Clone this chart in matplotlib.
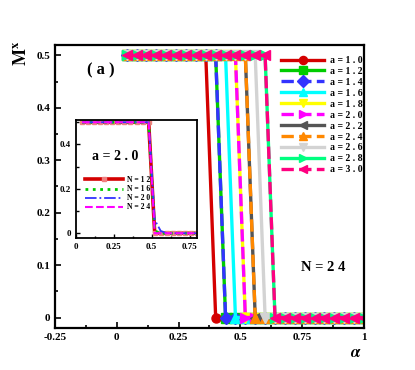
import matplotlib
matplotlib.use("Agg")
import matplotlib.pyplot as plt
from matplotlib.ticker import FixedLocator, FixedFormatter, MultipleLocator

plt.rcParams['font.family'] = ['Liberation Serif', 'DejaVu Serif']
plt.rcParams['font.weight'] = 'bold'
plt.rcParams['mathtext.fontset'] = 'stix'

# ---------------- data (main panel, N = 24) ----------------
alpha = [0.04, 0.08, 0.12, 0.16, 0.20, 0.24, 0.28, 0.32, 0.36, 0.40, 0.44, 0.48, 0.52,
         0.56, 0.60, 0.64, 0.68, 0.72, 0.76, 0.80, 0.84, 0.88, 0.92, 0.96, 1.00]

mx_a10 = [0.5, 0.5, 0.5, 0.5, 0.5, 0.5, 0.5, 0.5, 0.5, 0, 0, 0, 0, 0, 0, 0, 0, 0, 0, 0, 0, 0, 0, 0, 0]
mx_a12 = [0.5, 0.5, 0.5, 0.5, 0.5, 0.5, 0.5, 0.5, 0.5, 0.5, 0, 0, 0, 0, 0, 0, 0, 0, 0, 0, 0, 0, 0, 0, 0]
mx_a14 = [0.5, 0.5, 0.5, 0.5, 0.5, 0.5, 0.5, 0.5, 0.5, 0.5, 0, 0, 0, 0, 0, 0, 0, 0, 0, 0, 0, 0, 0, 0, 0]
mx_a16 = [0.5, 0.5, 0.5, 0.5, 0.5, 0.5, 0.5, 0.5, 0.5, 0.5, 0.5, 0, 0, 0, 0, 0, 0, 0, 0, 0, 0, 0, 0, 0, 0]
mx_a18 = [0.5, 0.5, 0.5, 0.5, 0.5, 0.5, 0.5, 0.5, 0.5, 0.5, 0.5, 0.5, 0, 0, 0, 0, 0, 0, 0, 0, 0, 0, 0, 0, 0]
mx_a20 = [0.5, 0.5, 0.5, 0.5, 0.5, 0.5, 0.5, 0.5, 0.5, 0.5, 0.5, 0.5, 0, 0, 0, 0, 0, 0, 0, 0, 0, 0, 0, 0, 0]
mx_a22 = [0.5, 0.5, 0.5, 0.5, 0.5, 0.5, 0.5, 0.5, 0.5, 0.5, 0.5, 0.5, 0.5, 0, 0, 0, 0, 0, 0, 0, 0, 0, 0, 0, 0]
mx_a24 = [0.5, 0.5, 0.5, 0.5, 0.5, 0.5, 0.5, 0.5, 0.5, 0.5, 0.5, 0.5, 0.5, 0, 0, 0, 0, 0, 0, 0, 0, 0, 0, 0, 0]
mx_a26 = [0.5, 0.5, 0.5, 0.5, 0.5, 0.5, 0.5, 0.5, 0.5, 0.5, 0.5, 0.5, 0.5, 0.5, 0, 0, 0, 0, 0, 0, 0, 0, 0, 0, 0]
mx_a28 = [0.5, 0.5, 0.5, 0.5, 0.5, 0.5, 0.5, 0.5, 0.5, 0.5, 0.5, 0.5, 0.5, 0.5, 0.5, 0, 0, 0, 0, 0, 0, 0, 0, 0, 0]
mx_a30 = [0.5, 0.5, 0.5, 0.5, 0.5, 0.5, 0.5, 0.5, 0.5, 0.5, 0.5, 0.5, 0.5, 0.5, 0.5, 0, 0, 0, 0, 0, 0, 0, 0, 0, 0]

series_labels = ['a = 1 . 0', 'a = 1 . 2', 'a = 1 . 4', 'a = 1 . 6', 'a = 1 . 8', 'a = 2 . 0',
                 'a = 2 . 2', 'a = 2 . 4', 'a = 2 . 6', 'a = 2 . 8', 'a = 3 . 0']
series_values = [mx_a10, mx_a12, mx_a14, mx_a16, mx_a18, mx_a20,
                 mx_a22, mx_a24, mx_a26, mx_a28, mx_a30]

# ---------------- data (inset, a = 2.0) ----------------
alpha_in = [0.04, 0.08, 0.12, 0.16, 0.20, 0.24, 0.28, 0.32, 0.36, 0.40, 0.44, 0.48,
            0.52, 0.56, 0.60, 0.64, 0.68, 0.72, 0.76, 0.80]
mx_n12 = [0.5, 0.5, 0.5, 0.5, 0.5, 0.5, 0.5, 0.5, 0.5, 0.5, 0.5, 0.5, 0, 0, 0, 0, 0, 0, 0, 0]
mx_n16 = [0.5, 0.5, 0.5, 0.5, 0.5, 0.5, 0.5, 0.5, 0.5, 0.5, 0.5, 0.5, 0.01, 0, 0, 0, 0, 0, 0, 0]
mx_n20 = [0.5, 0.5, 0.5, 0.5, 0.5, 0.5, 0.5, 0.5, 0.5, 0.5, 0.5, 0.5, 0.06, 0.01, 0, 0, 0, 0, 0, 0]
mx_n24 = [0.5, 0.5, 0.5, 0.5, 0.5, 0.5, 0.5, 0.5, 0.5, 0.5, 0.5, 0.5, 0, 0, 0, 0, 0, 0, 0, 0]
inset_labels = ['N = 1 2', 'N = 1 6', 'N = 2 0', 'N = 2 4']

xtick_vals = [-0.25, 0, 0.25, 0.5, 0.75, 1]
xtick_labels = ['-0.25', '0', '0.25', '0.5', '0.75', '1']
ytick_vals = [0, 0.1, 0.2, 0.3, 0.4, 0.5]
ytick_labels = ['0', '0.1', '0.2', '0.3', '0.4', '0.5']
in_xtick_vals = [0, 0.25, 0.5, 0.75]
in_xtick_labels = ['0', '0.25', '0.5', '0.75']
in_ytick_vals = [0, 0.2, 0.4]
in_ytick_labels = ['0', '0.2', '0.4']

# ---------------- styles ----------------
colors = ['#d40000', '#00cc00', '#3333ff', '#00ffff', '#ffff00', '#ff00ff',
          '#555555', '#ff8800', '#d3d3d3', '#00ff80', '#ff0080']
styles = ['-', '-', '--', '-', '-', '--', '-', '--', '-', '-', '--']
markers = ['o', 's', 'D', '^', 'v', '>', '<', '^', 'v', '>', '<']

fig = plt.figure(figsize=(4.15, 3.7), dpi=100)
ax = fig.add_axes([0.1325, 0.1135, 0.7446, 0.765])

for vals, lab, c, ls, m in zip(series_values, series_labels, colors, styles, markers):
    ax.plot(alpha, vals, color=c, ls=ls, lw=2.4, marker=m, ms=6.5,
            mec=c, mfc=c, label=lab)

ax.set_xlim(-0.25, 1.0)
ax.set_ylim(-0.02, 0.52)
ax.xaxis.set_major_locator(FixedLocator(xtick_vals))
ax.xaxis.set_major_formatter(FixedFormatter(xtick_labels))
ax.yaxis.set_major_locator(FixedLocator(ytick_vals))
ax.yaxis.set_major_formatter(FixedFormatter(ytick_labels))
ax.xaxis.set_minor_locator(MultipleLocator(0.125))
ax.yaxis.set_minor_locator(MultipleLocator(0.05))
ax.tick_params(which='both', direction='in', top=False, right=False, labelsize=8, width=1.2)
ax.tick_params(which='major', length=4)
ax.tick_params(which='minor', length=2.5)
for lab in ax.get_xticklabels() + ax.get_yticklabels():
    lab.set_fontweight('bold')
for sp in ax.spines.values():
    sp.set_linewidth(1.6)

ax.legend(loc='upper left', bbox_to_anchor=(0.72, 0.975), frameon=False,
          fontsize=7, handlelength=4.4, labelspacing=0.2, handletextpad=0.6,
          numpoints=1, borderaxespad=0, markerscale=0.9)

ax.text(-0.064, 0.472, '( a )', fontsize=12, fontweight='bold', ha='center', va='center')
ax.text(0.834, 0.095, 'N = 2 4', fontsize=10.5, fontweight='bold', ha='center', va='center')

fig.text(0.053, 0.855, r'$\mathbf{M^x}$', rotation=90, fontsize=13, ha='center', va='center')
fig.text(0.858, 0.045, r'$\alpha$', fontsize=12, ha='center', va='center')

# ---------------- inset ----------------
axi = fig.add_axes([0.183, 0.3576, 0.292, 0.318])
axi.plot(alpha_in, mx_n12, color='#d40000', lw=2.6, ls='-', marker='s', ms=3.5,
         mfc='#f08080', mec='#f08080', label=inset_labels[0])
axi.plot(alpha_in, mx_n16, color='#00cc00', lw=2.0, ls=':', label=inset_labels[1])
axi.plot(alpha_in, mx_n20, color='#3333ff', lw=1.3, ls='-.', label=inset_labels[2])
axi.plot(alpha_in, mx_n24, color='#ff00ff', lw=1.5, ls='--', label=inset_labels[3])
axi.set_xlim(0, 0.8)
axi.set_ylim(-0.02, 0.51)
axi.xaxis.set_major_locator(FixedLocator(in_xtick_vals))
axi.xaxis.set_major_formatter(FixedFormatter(in_xtick_labels))
axi.yaxis.set_major_locator(FixedLocator(in_ytick_vals))
axi.yaxis.set_major_formatter(FixedFormatter(in_ytick_labels))
axi.xaxis.set_minor_locator(MultipleLocator(0.125))
axi.yaxis.set_minor_locator(MultipleLocator(0.1))
axi.tick_params(which='both', direction='in', top=False, right=False, labelsize=6.5, width=1.0)
axi.tick_params(which='major', length=3)
axi.tick_params(which='minor', length=1.8)
for lab in axi.get_xticklabels() + axi.get_yticklabels():
    lab.set_fontweight('bold')
for sp in axi.spines.values():
    sp.set_linewidth(1.3)
axi.text(0.26, 0.345, 'a = 2 . 0', fontsize=10, fontweight='bold', ha='center', va='center')
axi.legend(loc='upper left', bbox_to_anchor=(0.05, 0.55), frameon=False,
           fontsize=5.5, handlelength=5.0, labelspacing=0.15, handletextpad=0.5,
           numpoints=1, borderaxespad=0)

fig.savefig('out.png', dpi=100)
